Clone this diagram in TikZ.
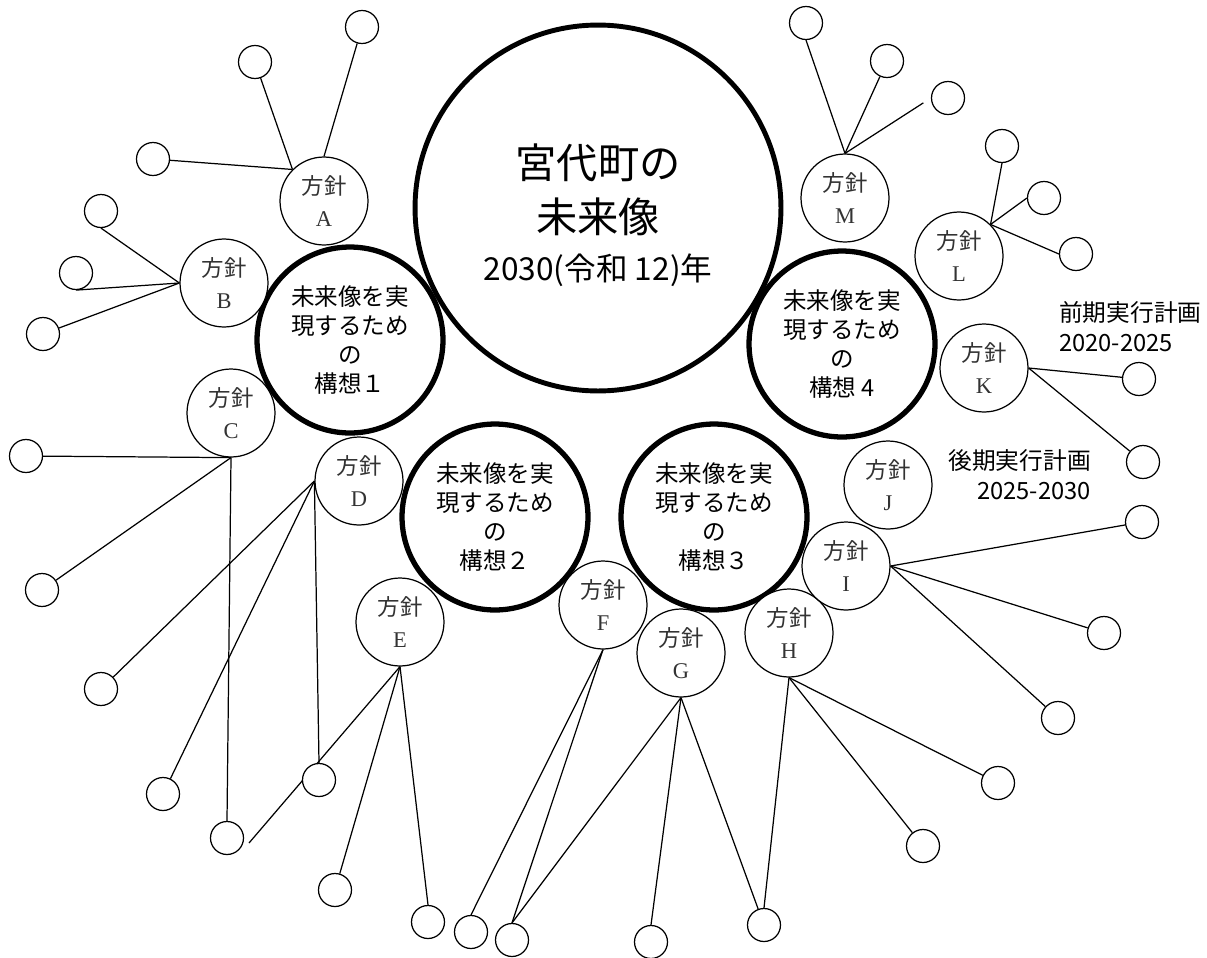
\documentclass[tikz,border=0pt]{standalone}
\usepackage{fontspec}
\newfontfamily\jp{Noto Sans CJK JP}
\newfontfamily\letterfont{Liberation Serif}
\usetikzlibrary{backgrounds}

\begin{document}
\begin{tikzpicture}[x=0.02cm, y=-0.02cm,
  vision/.style={circle, draw, line width=2.8pt, minimum size=7.32cm, inner sep=0pt, align=center, font=\jp\fontsize{23.5}{31}\selectfont},
  kosou/.style={circle, draw, line width=3pt, minimum size=3.72cm, inner sep=0pt, align=center, font=\jp\fontsize{13.4}{16.5}\selectfont},
  hoshin/.style={circle, draw, line width=0.7pt, minimum size=1.76cm, inner sep=0pt, align=center, fill=white, text=black!80, font=\fontsize{12.8}{18}\selectfont},
  leaf/.style={circle, draw, line width=0.7pt, minimum size=0.66cm, inner sep=0pt, fill=white},
  link/.style={line width=0.7pt},
  plan/.style={font=\jp\fontsize{13.5}{17}\selectfont}]
\useasboundingbox (0,0) rectangle (1207,957);

% vision and the four conceptions
\node[vision] (vision) at (598,208) {\rule{0pt}{27.5pt}宮代町の\\未来像\\[-4pt]{\fontsize{18}{24}\selectfont 2030(令和 12)年}};
\node[kosou] (k1) at (350,340) {未来像を実\\現するため\\の\\構想１};
\node[kosou] (k2) at (495,517) {未来像を実\\現するため\\の\\構想２};
\node[kosou] (k3) at (714,517) {未来像を実\\現するため\\の\\構想３};
\node[kosou] (k4) at (842,344) {未来像を実\\現するため\\の\\構想 4};

% policies
\node[hoshin] (pA) at (324,201) {{\jp 方針}\\{\letterfont A}};
\node[hoshin] (pB) at (224,283) {{\jp 方針}\\{\letterfont B}};
\node[hoshin] (pC) at (231,413) {{\jp 方針}\\{\letterfont C}};
\node[hoshin] (pD) at (359,481) {{\jp 方針}\\{\letterfont D}};
\node[hoshin] (pE) at (400,622) {{\jp 方針}\\{\letterfont E}};
\node[hoshin] (pF) at (603,605) {{\jp 方針}\\{\letterfont F}};
\node[hoshin] (pG) at (681,653) {{\jp 方針}\\{\letterfont G}};
\node[hoshin] (pH) at (789,633) {{\jp 方針}\\{\letterfont H}};
\node[hoshin] (pI) at (846,566) {{\jp 方針}\\{\letterfont I}};
\node[hoshin] (pJ) at (888,485) {{\jp 方針}\\{\letterfont J}};
\node[hoshin] (pK) at (984,368) {{\jp 方針}\\{\letterfont K}};
\node[hoshin] (pL) at (959,256) {{\jp 方針}\\{\letterfont L}};
\node[hoshin] (pM) at (845,198) {{\jp 方針}\\{\letterfont M}};

% measures
\node[leaf] (a1) at (362,27) {};
\node[leaf] (a2) at (255,62) {};
\node[leaf] (a3) at (153,159) {};
\node[leaf] (b1) at (101,211) {};
\node[leaf] (b2) at (76,273) {};
\node[leaf] (b3) at (43,334) {};
\node[leaf] (c1) at (26,456) {};
\node[leaf] (c2) at (42,590) {};
\node[leaf] (c3) at (227,838) {};
\node[leaf] (d1) at (101,689) {};
\node[leaf] (d2) at (163,794) {};
\node[leaf] (d3) at (319,780) {};
\node[leaf] (e1) at (335,890) {};
\node[leaf] (e2) at (428,922) {};
\node[leaf] (f1) at (471,932) {};
\node[leaf] (f2) at (512,940) {};
\node[leaf] (g1) at (651,942) {};
\node[leaf] (g2) at (764,925) {};
\node[leaf] (h1) at (923,846) {};
\node[leaf] (h2) at (998,783) {};
\node[leaf] (i1) at (1058,718) {};
\node[leaf] (i2) at (1104,633) {};
\node[leaf] (i3) at (1142,522) {};
\node[leaf] (k1a) at (1139,379) {};
\node[leaf] (k2a) at (1143,462) {};
\node[leaf] (l1) at (1002,146) {};
\node[leaf] (l2) at (1044,198) {};
\node[leaf] (l3) at (1076,254) {};
\node[leaf] (m1) at (806,23) {};
\node[leaf] (m2) at (887,61) {};
\node[leaf] (m3) at (948,98) {};
\coordinate (eend) at (249,843);

% plan periods
\node[plan, anchor=west, align=left] (early) at (1053,327) {前期実行計画\\2020-2025};
\node[plan, anchor=east, align=right] (late) at (1097,475) {後期実行計画\\2025-2030};

\begin{pgfonlayer}{background}
% policy -> measures
\draw[link] (pA.north) -- (a1);
\draw[link] (pA.135) -- (a2);
\draw[link] (pA.135) -- (a3);
\draw[link] (pB.west) -- (b1.south);
\draw[link] (pB.west) -- (b2.south);
\draw[link] (pB.west) -- (b3);
\draw[link] (pC.south) -- (c1);
\draw[link] (pC.south) -- (c2);
\draw[link] (pC.south) -- (c3.north);
\draw[link] (pD.west) -- (d1);
\draw[link] (pD.west) -- (d2);
\draw[link] (pD.west) -- (d3.north);
\draw[link] (pE.south) -- (eend);
\draw[link] (pE.south) -- (e1);
\draw[link] (pE.south) -- (e2.north);
\draw[link] (pF.south) -- (f1.north);
\draw[link] (pF.south) -- (f2.north);
\draw[link] (pG.south) -- (f2.north);
\draw[link] (pG.south) -- (g1.north);
\draw[link] (pG.south) -- (g2);
\draw[link] (pH.south) -- (g2.north);
\draw[link] (pH.south) -- (h1);
\draw[link] (pH.south) -- (h2);
\draw[link] (pI.east) -- (i1);
\draw[link] (pI.east) -- (i2);
\draw[link] (pI.east) -- (i3);
\draw[link] (pK.east) -- (k1a);
\draw[link] (pK.east) -- (k2a);
\draw[link] (pL.45) -- (l1.south);
\draw[link] (pL.45) -- (l2.west);
\draw[link] (pL.45) -- (l3.west);
\draw[link] (pM.north) -- (m1.south);
\draw[link] (pM.north) -- (m2);
\draw[link, shorten >=0.18cm] (pM.north) -- (m3.west);
\end{pgfonlayer}
\end{tikzpicture}
\end{document}
